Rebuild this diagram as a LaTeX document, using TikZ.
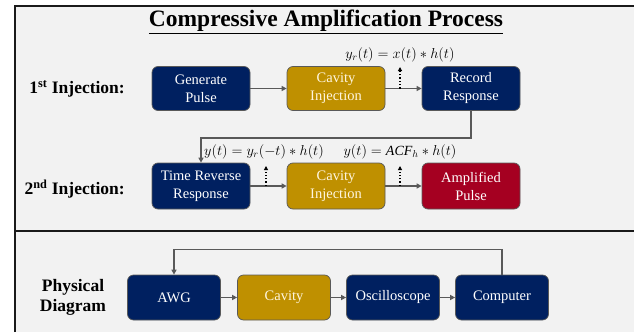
\documentclass[tikz,border=0pt]{standalone}
\usepackage{fontspec}
\setmainfont{Liberation Serif}
\usetikzlibrary{arrows.meta}
\definecolor{navy}{HTML}{002060}
\definecolor{gold}{HTML}{BF9000}
\definecolor{crimson}{HTML}{A50021}
\definecolor{bg}{HTML}{F2F2F2}
\definecolor{conn}{HTML}{595959}
\definecolor{frame}{HTML}{1A1A1A}
\definecolor{cream}{HTML}{FFF6E0}
\begin{document}
\begin{tikzpicture}[x=1pt,y=-1pt,
  box/.style={rounded corners=6pt, draw=black!65, line width=0.7pt,
    minimum width=98pt, minimum height=45pt, inner sep=0pt, align=center,
    text=white, font=\rmfamily\fontsize{14.5}{18}\selectfont},
  navybox/.style={box, fill=navy},
  goldbox/.style={box, fill=gold, text=cream},
  redbox/.style={box, fill=crimson},
  physbox/.style={minimum width=93pt},
  flow/.style={draw=conn, line width=1.4pt, -{Triangle[length=5pt,width=5pt]}},
  dotarrow/.style={draw=black, line width=1.3pt, dotted, -{Triangle[length=4pt,width=4pt]}},
  rowlabel/.style={font=\rmfamily\bfseries\fontsize{17.5}{20}\selectfont, align=center, inner sep=0pt},
  formula/.style={font=\fontsize{14}{16}\selectfont, inner sep=0pt},
  framerule/.style={draw=frame, line width=2pt}
]
\useasboundingbox (0,0) rectangle (634,332);
\fill[bg] (15,6) rectangle (634,332);
\draw[framerule] (15,332) -- (15,6) -- (634,6);
\draw[framerule] (15,231) -- (634,231);

\node[inner sep=0pt, font=\rmfamily\bfseries\fontsize{23.5}{26}\selectfont] (title) at (326,22) {\underline{Compressive Amplification Process}};

% row 1
\node[rowlabel, anchor=east] (lab1) at (125,89) {1\textsuperscript{st} Injection:};
\node[navybox, minimum height=44pt] (gen) at (201,88.5) {Generate\\Pulse};
\node[goldbox, minimum height=44pt] (cav1) at (336,88.5) {Cavity\\Injection};
\node[navybox, minimum height=44pt] (rec) at (471,88.5) {Record\\Response};
\draw[flow] (gen) -- (cav1);
\draw[flow] (cav1) -- (rec);
\coordinate (d1s) at (400,88.5);
\coordinate (d1e) at (400,67);
\draw[dotarrow] (d1s) -- (d1e);
\node[formula] (f1) at (400,55) {$y_r(t) = x(t) \ast h(t)$};

% row 2
\node[rowlabel, anchor=east] (lab2) at (125,189) {2\textsuperscript{nd} Injection:};
\node[navybox, minimum height=46pt] (trr) at (201,186) {Time Reverse\\Response};
\node[goldbox, minimum height=46pt] (cav2) at (336,186) {Cavity\\Injection};
\node[redbox, minimum height=46pt] (amp) at (471,186) {Amplified\\Pulse};
\draw[flow] (trr) -- (cav2);
\draw[flow] (cav2) -- (amp);
\draw[flow] (rec.south) -- ++(0,27) -| (trr.north);
\coordinate (d2s) at (266,186);
\coordinate (d2e) at (266,166);
\coordinate (d3s) at (400,186);
\coordinate (d3e) at (400,166);
\draw[dotarrow] (d2s) -- (d2e);
\draw[dotarrow] (d3s) -- (d3e);
\node[formula] (f2) at (264,152) {$y(t) = y_r(-t) \ast h(t)$};
\node[formula] (f3) at (400,152) {$y(t) = \mathit{ACF}_h \ast h(t)$};

% physical
\node[rowlabel] (lab3) at (73,297) {Physical\\Diagram};
\node[navybox, physbox] (awg) at (174,297.5) {AWG};
\node[goldbox, physbox] (cav3) at (284,297.5) {Cavity};
\node[navybox, physbox] (osc) at (393,297.5) {Oscilloscope};
\node[navybox, physbox] (comp) at (502,297.5) {Computer};
\draw[flow] (awg) -- (cav3);
\draw[flow] (cav3) -- (osc);
\draw[flow] (osc) -- (comp);
\draw[flow] (comp.north) -- ++(0,-25) -| (awg.north);
\end{tikzpicture}
\end{document}
